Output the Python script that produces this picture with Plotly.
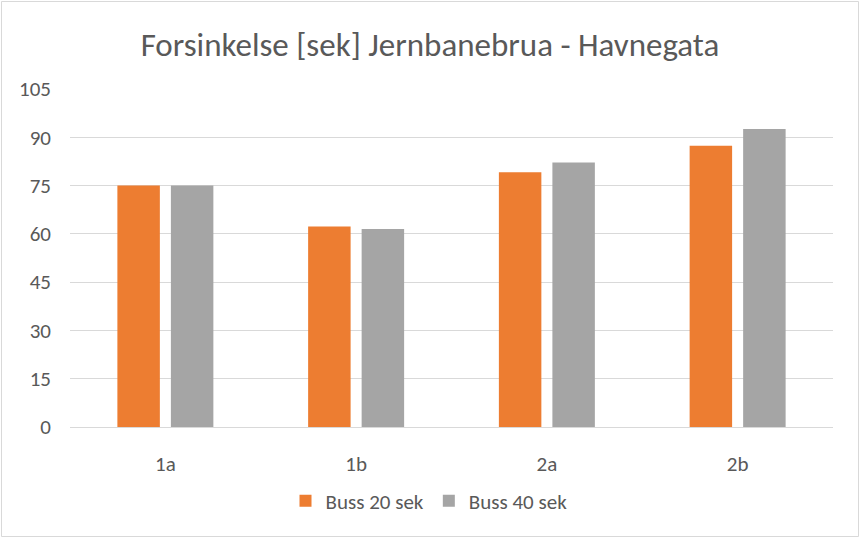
import plotly.graph_objects as go

categories = ["1a", "1b", "2a", "2b"]
buss20 = [75, 62.3, 79.1, 87.4]
buss40 = [75, 61.5, 82.2, 92.6]
y_ticks = [0, 15, 30, 45, 60, 75, 90, 105]

FONT = "Carlito, Calibri, Lato, sans-serif"

fig = go.Figure()
fig.add_trace(go.Bar(name="Buss 20 sek", x=categories, y=buss20, marker=dict(color="#ED7D31", line=dict(width=0))))
fig.add_trace(go.Bar(name="Buss 40 sek", x=categories, y=buss40, marker=dict(color="#A5A5A5", line=dict(width=0))))

W, H = 860, 538
ml, mr, mt, mb = 70, 27, 89, 111
pw, ph = W - ml - mr, H - mt - mb

fig.update_layout(
    width=W, height=H,
    margin=dict(l=ml, r=mr, t=mt, b=mb, autoexpand=False),
    paper_bgcolor="white", plot_bgcolor="white",
    barmode="group", bargap=0.439, bargroupgap=0.206,
    font=dict(family=FONT, color="#595959", size=21),
    title=dict(text="Forsinkelse [sek] Jernbanebrua - Havnegata", x=0.5, xanchor="center",
               y=1 - 44 / H, yanchor="middle", font=dict(size=33, color="#595959", family=FONT)),
    xaxis=dict(showgrid=False, showline=True, linecolor="#D9D9D9", linewidth=1, ticks="",
               tickfont=dict(size=21, color="#595959"), ticklabelstandoff=18),
    yaxis=dict(range=[0, 105], tickvals=y_ticks, showgrid=True, gridcolor="#D9D9D9", gridwidth=1,
               zeroline=False, showline=False, ticks="", ticklabelstandoff=18,
               tickfont=dict(size=21, color="#595959")),
    legend=dict(orientation="h", x=(429 - ml) / pw, xanchor="center",
                y=(37 - mb) / ph, yanchor="middle",
                font=dict(size=21, color="#595959"), itemwidth=30, traceorder="normal"),
    showlegend=True,
)

fig.add_shape(type="rect", xref="paper", yref="paper",
              x0=(1.5 - ml) / pw, x1=(W - 1.5 - ml) / pw,
              y0=(1.5 - mb) / ph, y1=(H - 1.5 - mb) / ph,
              line=dict(color="#D9D9D9", width=1), layer="below")

fig.write_html("out.html")
